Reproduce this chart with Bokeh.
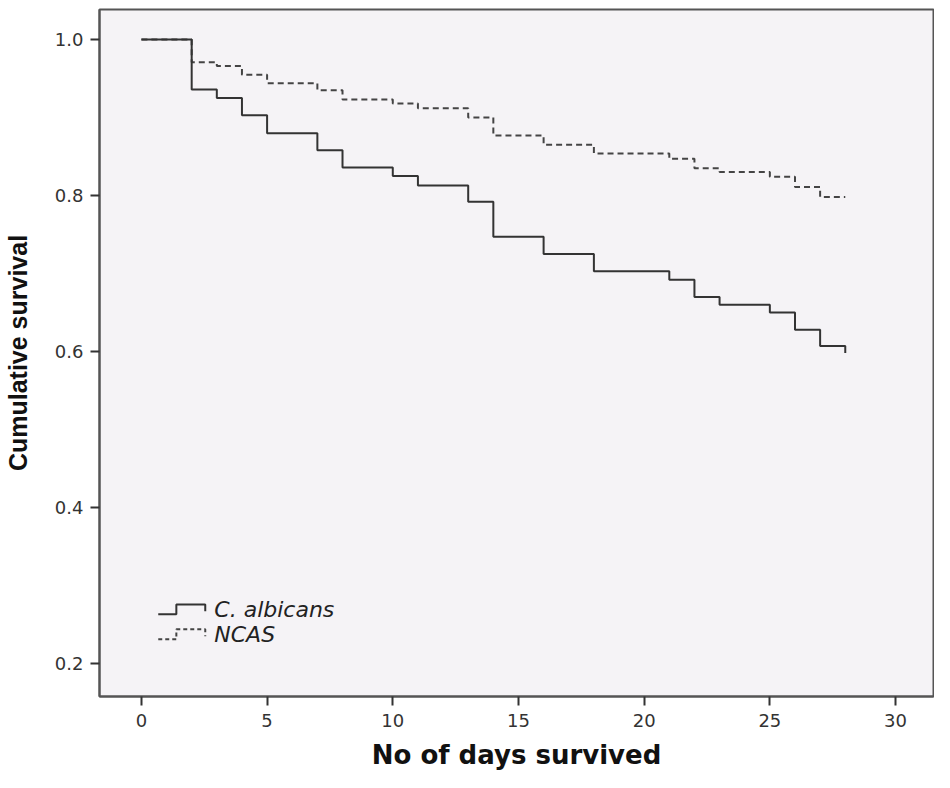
from bokeh.plotting import figure
from bokeh.models import FixedTicker, NumeralTickFormatter, Range1d
from bokeh.core.properties import value
from bokeh.embed import file_html
from bokeh.resources import INLINE

# ---- data (Kaplan-Meier step curves) ----
alb_days = [0, 2, 3, 4, 5, 7, 8, 10, 11, 13, 14, 16, 18, 21, 22, 23, 25, 26, 27, 28]
alb_surv = [1.0, 0.936, 0.925, 0.903, 0.880, 0.858, 0.836, 0.825, 0.813, 0.792,
            0.747, 0.725, 0.703, 0.692, 0.670, 0.660, 0.650, 0.628, 0.607, 0.598]
ncas_days = [0, 2, 3, 4, 5, 7, 8, 10, 11, 13, 14, 16, 18, 21, 22, 23, 25, 26, 27, 28]
ncas_surv = [1.0, 0.971, 0.966, 0.955, 0.944, 0.935, 0.923, 0.918, 0.912, 0.900,
             0.877, 0.865, 0.854, 0.847, 0.835, 0.830, 0.824, 0.811, 0.798, 0.798]
series_names = ["C. albicans", "NCAS"]
x_ticks = [0, 5, 10, 15, 20, 25, 30]
y_ticks = [0.2, 0.4, 0.6, 0.8, 1.0]
x_title = "No of days survived"
y_title = "Cumulative survival"

BG = "#F5F3F6"
INK = "#333333"

p = figure(width=934, height=772, output_backend="svg", toolbar_location=None,
           x_range=Range1d(-1.667, 31.51), y_range=Range1d(0.1577, 1.0385),
           min_border_left=97, min_border_right=1, min_border_top=9,
           min_border_bottom=76)
p.background_fill_color = BG
p.border_fill_color = "white"
p.outline_line_color = "#555555"
p.outline_line_width = 2
p.grid.visible = False

for ax in (p.xaxis[0], p.yaxis[0]):
    ax.axis_line_color = "#555555"
    ax.axis_line_width = 2
    ax.major_tick_line_color = INK
    ax.major_tick_line_width = 2
    ax.major_tick_in = 0
    ax.major_tick_out = 9
    ax.minor_tick_line_color = None
    ax.major_label_text_font = "DejaVu Sans"
    ax.major_label_text_font_size = "18px"
    ax.major_label_text_color = INK
    ax.axis_label_text_color = "#111111"
    ax.axis_label_text_font_style = "bold"

p.xaxis.ticker = FixedTicker(ticks=x_ticks)
p.yaxis.ticker = FixedTicker(ticks=y_ticks)
p.xaxis.formatter = NumeralTickFormatter(format="0")
p.yaxis.formatter = NumeralTickFormatter(format="0.0")
p.xaxis.major_label_standoff = 8
p.yaxis.major_label_standoff = 7
p.xaxis.axis_label = x_title
p.yaxis.axis_label = y_title
p.xaxis.axis_label_text_font = "DejaVu Sans"
p.xaxis.axis_label_text_font_size = "26px"
p.xaxis.axis_label_standoff = 10
p.yaxis.axis_label_text_font = "Liberation Sans"
p.yaxis.axis_label_text_font_size = "25px"
p.yaxis.axis_label_standoff = 20

# curves
p.step(ncas_days, ncas_surv, mode="after", line_color="#444444", line_width=2,
       line_dash="6 4")
p.step(alb_days, alb_surv, mode="after", line_color="#333333", line_width=2)

# custom legend with stepped icons (SPSS style)
lg_x0, lg_x1, lg_x2 = 0.67, 1.39, 2.54
lg_text_x = 2.9
lg_y = [0.263, 0.231]
lg_rise = 0.0128
styles = [dict(line_color="#333333", line_width=2),
          dict(line_color="#444444", line_width=2, line_dash="4 3")]
for i, name in enumerate(series_names):
    y0 = lg_y[i]
    p.line([lg_x0, lg_x1, lg_x1, lg_x2, lg_x2],
           [y0, y0, y0 + lg_rise, y0 + lg_rise, y0 + lg_rise * 0.3], **styles[i])
    p.text([lg_text_x], [y0 + lg_rise * 0.5], text=[name],
           text_font=value("DejaVu Sans"), text_font_style="italic",
           text_font_size="22px", text_color="#222222",
           text_baseline="middle", text_align="left")

open("out.html", "w").write(file_html(p, INLINE))
